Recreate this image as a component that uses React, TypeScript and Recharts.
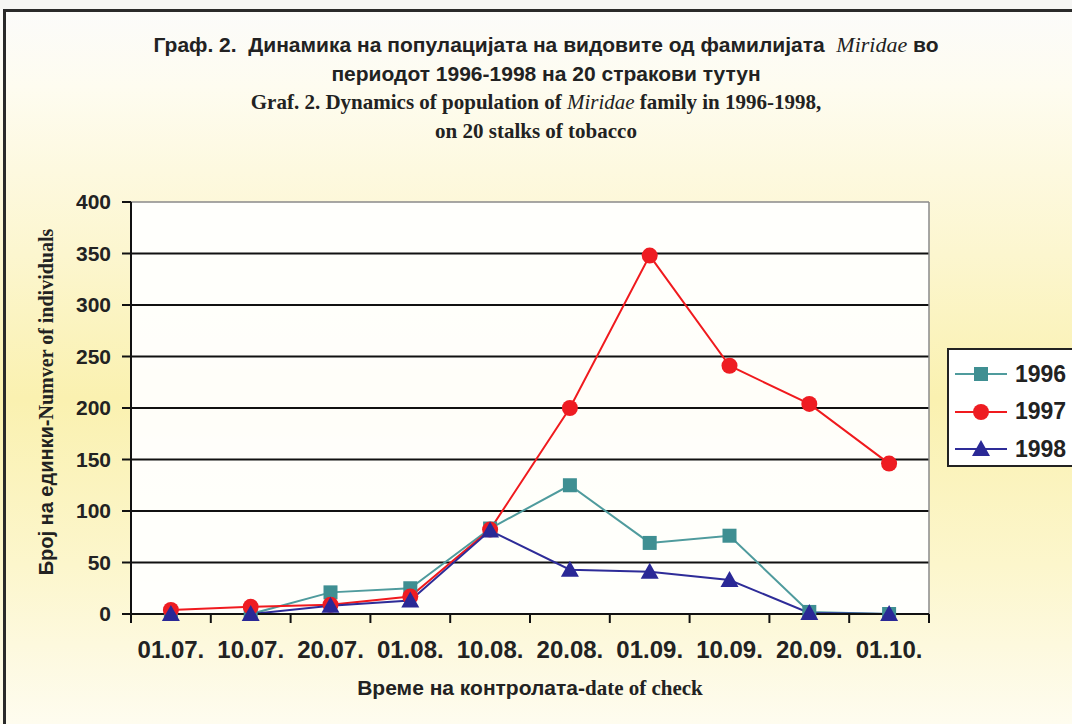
import React from 'react'
import { LineChart, Line, XAxis, YAxis, CartesianGrid, ReferenceLine } from 'recharts'

const DATES = ['01.07.', '10.07.', '20.07.', '01.08.', '10.08.', '20.08.', '01.09.', '10.09.', '20.09.', '01.10.']
const Y1996 = [0, 0, 21, 25, 83, 125, 69, 76, 2, 0]
const Y1997 = [4, 7, 9, 17, 82, 200, 348, 241, 204, 146]
const Y1998 = [0, 0, 8, 13, 81, 43, 41, 33, 1, 0]
const Y_TICKS = [0, 50, 100, 150, 200, 250, 300, 350, 400]
const EDGE_TICKS = [0, 1, 2, 3, 4, 5, 6, 7, 8, 9, 10]
const LABEL_TICKS = [0.5, 1.5, 2.5, 3.5, 4.5, 5.5, 6.5, 7.5, 8.5, 9.5]

const SERIES = [
  { key: 'y1996', name: '1996', color: '#4f9b9d', fill: '#3f8f92', shape: 'square' },
  { key: 'y1997', name: '1997', color: '#f01a1e', fill: '#ee1c22', shape: 'circle' },
  { key: 'y1998', name: '1998', color: '#2e2c98', fill: '#2a2896', shape: 'triangle' },
]

const data = DATES.map((d, i) => ({
  x: i + 0.5,
  date: d,
  y1996: Y1996[i],
  y1997: Y1997[i],
  y1998: Y1998[i],
}))

const SANS = 'Arial, "Liberation Sans", Helvetica, sans-serif'
const SERIF = '"Times New Roman", "Liberation Serif", serif'

function Marker({ shape, cx, cy, fill }: { shape: string; cx: number; cy: number; fill: string }) {
  if (cx == null || cy == null) return null
  if (shape === 'square') return <rect x={cx - 7} y={cy - 7} width={14} height={14} fill={fill} />
  if (shape === 'circle') return <circle cx={cx} cy={cy} r={8} fill={fill} />
  return <polygon points={`${cx},${cy - 9} ${cx + 9},${cy + 7} ${cx - 9},${cy + 7}`} fill={fill} />
}

function makeDot(shape: string, fill: string) {
  // eslint-disable-next-line @typescript-eslint/no-explicit-any
  return (p: any) => <Marker key={`${shape}-${p.index}`} shape={shape} cx={p.cx} cy={p.cy} fill={fill} />
}

export default function App() {
  return (
    <div
      style={{
        position: 'absolute', left: 0, top: 0, width: 1072, height: 724, overflow: 'hidden',
        background: 'linear-gradient(180deg, #fbfbfb 0%, #fefcf0 12%, #fcf6cf 35%, #faf1b0 55%, #fcf6cc 78%, #fefcef 100%)',
      }}
    >
      {/* frame */}
      <div style={{ position: 'absolute', left: 0, top: 0, width: 1072, height: 9, background: '#f6f6f4' }} />
      <div style={{ position: 'absolute', left: 3, top: 9, width: 1080, height: 730, borderLeft: '3px solid #2a2a2a', borderTop: '3px solid #2a2a2a' }} />

      {/* title */}
      <div style={{ position: 'absolute', left: 0, top: 30, width: 1092, textAlign: 'center', fontFamily: SANS, fontWeight: 'bold', fontSize: 21, color: '#222', lineHeight: '29px' }}>
        <div>
          Граф. 2.&nbsp; Динамика на популацијата на видовите од фамилијата&nbsp;{' '}
          <span style={{ fontFamily: SERIF, fontStyle: 'italic', fontWeight: 'normal', fontSize: 22 }}>Miridae</span> во
        </div>
        <div>периодот 1996-1998 на 20 стракови тутун</div>
      </div>
      <div style={{ position: 'absolute', left: 0, top: 88, width: 1072, textAlign: 'center', fontFamily: SERIF, fontWeight: 'bold', fontSize: 21, color: '#222', lineHeight: '29px' }}>
        <div>
          Graf. 2. Dynamics of population of <span style={{ fontStyle: 'italic', fontWeight: 'normal' }}>Miridae</span> family in 1996-1998,
        </div>
        <div>on 20 stalks of tobacco</div>
      </div>

      <LineChart width={1072} height={724} data={data} margin={{ top: 202, right: 143, left: 0, bottom: 49 }} style={{ position: 'absolute', left: 0, top: 0 }}>
        <CartesianGrid xAxisId="edge" vertical={false} horizontalValues={[50, 100, 150, 200, 250, 300, 350]} stroke="#111" strokeWidth={2} fill="#ffffff" fillOpacity={0.92} />
        <XAxis
          xAxisId="edge" type="number" dataKey="x" domain={[0, 10]} ticks={EDGE_TICKS} height={1}
          axisLine={{ stroke: '#111', strokeWidth: 2 }} tickLine={{ stroke: '#111', strokeWidth: 2 }} tickSize={9}
          tick={() => <g />}
        />
        <XAxis
          xAxisId="lab" type="number" dataKey="x" domain={[0, 10]} ticks={LABEL_TICKS} height={60} interval={0}
          axisLine={false} tickLine={false} tickSize={0} tickMargin={26}
          tickFormatter={(v: number) => DATES[Math.floor(v)]}
          tick={{ fill: '#222', fontFamily: SANS, fontWeight: 'bold', fontSize: 24 }}
        />
        <YAxis
          type="number" domain={[0, 400]} ticks={Y_TICKS} width={131} interval={0}
          axisLine={{ stroke: '#111', strokeWidth: 2 }} tickLine={{ stroke: '#111', strokeWidth: 2 }} tickSize={9} tickMargin={11}
          tick={{ fill: '#222', fontFamily: SANS, fontWeight: 'bold', fontSize: 21 }}
        />
        <ReferenceLine xAxisId="edge" y={400} stroke="#8a8a8a" strokeWidth={1.5} />
        <ReferenceLine xAxisId="edge" x={10} stroke="#8a8a8a" strokeWidth={1.5} />
        {SERIES.map((s) => (
          <Line
            key={s.key} xAxisId="edge" dataKey={s.key} name={s.name} type="linear"
            stroke={s.color} strokeWidth={2} dot={makeDot(s.shape, s.fill)} activeDot={false}
            isAnimationActive={false}
          />
        ))}
      </LineChart>

      {/* y-axis title */}
      <div style={{ position: 'absolute', left: 46, top: 402, transform: 'translate(-50%, -50%) rotate(-90deg)', whiteSpace: 'nowrap', fontSize: 20, fontWeight: 'bold', color: '#222' }}>
        <span style={{ fontFamily: SANS }}>Број на единки-</span>
        <span style={{ fontFamily: SERIF }}>Numver of individuals</span>
      </div>

      {/* x-axis title */}
      <div style={{ position: 'absolute', left: 0, top: 676, width: 1060, textAlign: 'center', fontSize: 21, fontWeight: 'bold', color: '#222' }}>
        <span style={{ fontFamily: SANS }}>Време на контролата-</span>
        <span style={{ fontFamily: SERIF }}>date of check</span>
      </div>

      {/* legend */}
      <div style={{ position: 'absolute', left: 947, top: 348, width: 160, height: 115, border: '2px solid #222', background: '#fff' }}>
        {SERIES.map((s, i) => (
          <div key={s.key} style={{ position: 'absolute', left: 6, top: 7 + i * 37.5, height: 34, display: 'flex', alignItems: 'center' }}>
            <svg width={54} height={24}>
              <line x1={0} y1={12} x2={52} y2={12} stroke={s.color} strokeWidth={2} />
              <Marker shape={s.shape} cx={26} cy={12} fill={s.fill} />
            </svg>
            <span style={{ marginLeft: 6, fontFamily: SANS, fontWeight: 'bold', fontSize: 23, color: '#222' }}>{s.name}</span>
          </div>
        ))}
      </div>
    </div>
  )
}
